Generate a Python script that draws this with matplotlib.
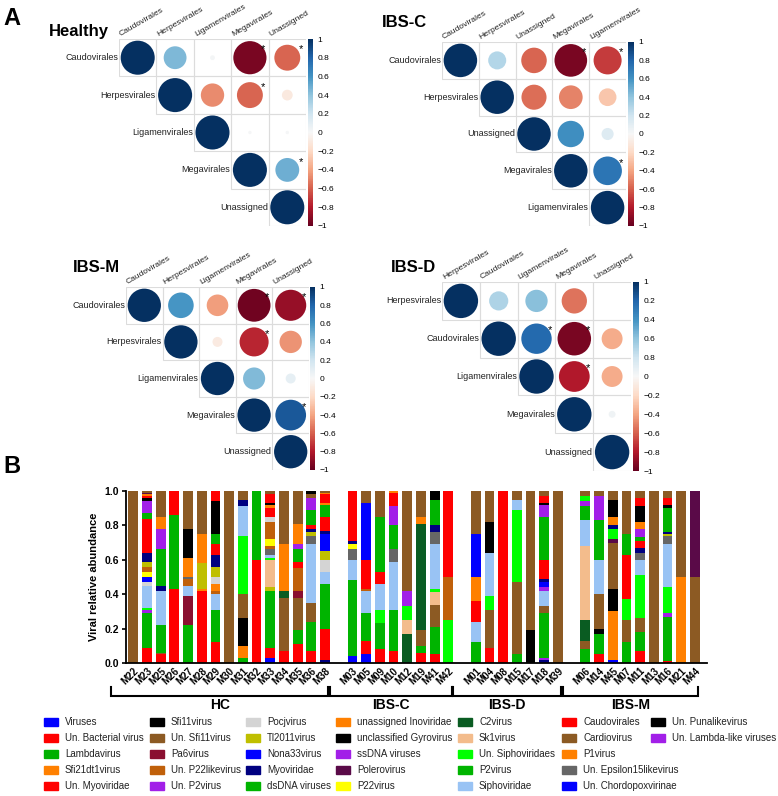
import numpy as np
import matplotlib
matplotlib.use("Agg")
import matplotlib.pyplot as plt
import matplotlib.transforms as mtransforms
from matplotlib.patches import Circle, Rectangle
from matplotlib.colors import Normalize
from matplotlib.cm import ScalarMappable

plt.rcParams['font.family'] = ['Liberation Sans', 'DejaVu Sans']

# ---------------- panel A: correlations (upper triangle, row i = columns i..4) ----------------
healthy_order = ["Caudovirales", "Herpesvirales", "Ligamenvirales", "Megavirales", "Unassigned"]
healthy_r = [[1, 0.45, 0.02, -0.95, -0.58],
             [1, -0.47, -0.58, -0.10],
             [1, 0.01, 0.01],
             [1, 0.49],
             [1]]
healthy_sig = [(0, 3), (0, 4), (1, 3), (3, 4)]

ibsc_order = ["Caudovirales", "Herpesvirales", "Unassigned", "Megavirales", "Ligamenvirales"]
ibsc_r = [[1, 0.29, -0.58, -0.95, -0.70],
          [1, -0.56, -0.50, -0.28],
          [1, 0.62, 0.13],
          [1, 0.73],
          [1]]
ibsc_sig = [(0, 3), (0, 4), (3, 4)]

ibsm_order = ["Caudovirales", "Herpesvirales", "Ligamenvirales", "Megavirales", "Unassigned"]
ibsm_r = [[1, 0.59, -0.42, -0.97, -0.87],
          [1, -0.09, -0.76, -0.45],
          [1, 0.44, 0.09],
          [1, 0.85],
          [1]]
ibsm_sig = [(0, 3), (0, 4), (1, 3), (3, 4)]

ibsd_order = ["Herpesvirales", "Caudovirales", "Ligamenvirales", "Megavirales", "Unassigned"]
ibsd_r = [[1, 0.31, 0.42, -0.54, 0.0],
          [1, 0.78, -0.95, -0.37],
          [1, -0.80, -0.37],
          [1, 0.04],
          [1]]
ibsd_sig = [(1, 2), (1, 3), (2, 3)]

cbar_labels = ["1", "0.8", "0.6", "0.4", "0.2", "0", "\u22120.2", "\u22120.4", "\u22120.6", "\u22120.8", "\u22121"]
cbar_labels_ibsd = ["1", "0.2", "0.4", "0.6", "0.8", "0", "\u22120.2", "\u22120.4", "\u22120.6", "\u22120.8", "\u22121"]

# ---------------- panel B: viral relative abundance ----------------
taxa = {"Br": "Un. Sfi11virus", "R": "Caudovirales", "G": "dsDNA viruses", "BG": "Un. Siphoviridaes",
        "LB": "Siphoviridae", "O": "P1virus", "OB": "Un. P22likevirus", "K": "Sfi11virus",
        "N": "Myoviridae", "B": "Nona33virus", "P": "ssDNA viruses", "DP": "Polerovirus",
        "Ol": "Tl2011virus", "Y": "P22virus", "LG": "Pocjvirus", "Gy": "Un. Epsilon15likevirus",
        "T": "Sk1virus", "DG": "C2virus", "DR": "Pa6virus"}

hc_samples = ["M22", "M23", "M25", "M26", "M27", "M28", "M29", "M30", "M31", "M32", "M33", "M34", "M35", "M36", "M38"]
hc_stacks = [
    [("Br", 1.0)],
    [("R", .09), ("G", .20), ("P", .02), ("BG", .01), ("LB", .13), ("LG", .02), ("B", .03), ("Y", .03),
     ("OB", .03), ("Ol", .03), ("N", .05), ("R", .20), ("G", .03), ("P", .07), ("K", .02), ("R", .01),
     ("O", .01), ("DP", .01), ("Br", .01)],
    [("R", .05), ("Br", .01), ("G", .16), ("LB", .20), ("N", .03), ("G", .21), ("P", .12), ("O", .07), ("Br", .15)],
    [("R", .43), ("G", .43), ("R", .14)],
    [("G", .22), ("DR", .17), ("LB", .06), ("OB", .04), ("Gy", .01), ("O", .11), ("K", .17), ("Br", .22)],
    [("R", .42), ("O", .01), ("Ol", .15), ("O", .17), ("Br", .25)],
    [("R", .12), ("G", .19), ("LB", .09), ("OB", .02), ("O", .04), ("LG", .04), ("Ol", .06), ("N", .07),
     ("R", .06), ("G", .06), ("K", .19), ("R", .06)],
    [("Br", 1.0)],
    [("G", .03), ("O", .07), ("K", .16), ("Br", .14), ("BG", .34), ("LB", .17), ("N", .04), ("Br", .05)],
    [("R", .60), ("G", .40)],
    [("B", .03), ("R", .06), ("G", .33), ("Ol", .02), ("T", .16), ("BG", .01), ("LB", .02), ("Gy", .03),
     ("OB", .02), ("Y", .04), ("OB", .10), ("LG", .03), ("R", .05), ("O", .02), ("K", .01), ("R", .05), ("Br", .02)],
    [("R", .07), ("Br", .31), ("DG", .04), ("O", .27), ("Br", .31)],
    [("R", .11), ("G", .08), ("Br", .19), ("DR", .04), ("OB", .13), ("R", .04), ("G", .07), ("P", .03),
     ("O", .12), ("Br", .19)],
    [("R", .07), ("G", .17), ("Br", .11), ("LB", .34), ("Gy", .05), ("Ol", .02), ("N", .02), ("R", .02),
     ("G", .09), ("P", .07), ("Br", .02), ("K", .02)],
    [("N", .02), ("R", .18), ("G", .26), ("LB", .07), ("LG", .07), ("Ol", .05), ("B", .10), ("N", .02),
     ("R", .08), ("G", .07), ("O", .01), ("R", .05), ("O", .01), ("Br", .01)],
]

ibsc_samples = ["M03", "M05", "M09", "M10", "M12", "M19", "M41", "M42"]
ibsc_stacks = [
    [("B", .04), ("G", .44), ("LB", .12), ("Gy", .06), ("Y", .03), ("N", .02), ("R", .29)],
    [("B", .05), ("R", .08), ("G", .16), ("LB", .13), ("OB", .01), ("R", .17), ("B", .33), ("Br", .07)],
    [("R", .08), ("G", .15), ("BG", .08), ("LB", .15), ("R", .07), ("G", .32), ("Br", .15)],
    [("R", .07), ("G", .24), ("LB", .28), ("Gy", .07), ("G", .14), ("P", .11), ("R", .08), ("O", .01)],
    [("DG", .17), ("T", .08), ("BG", .08), ("P", .09), ("Br", .58)],
    [("R", .06), ("G", .04), ("Br", .09), ("DG", .62), ("O", .04), ("Br", .15)],
    [("R", .05), ("G", .16), ("Br", .13), ("T", .07), ("BG", .02), ("LB", .26), ("Gy", .07), ("N", .04),
     ("G", .15), ("K", .05)],
    [("BG", .25), ("OB", .25), ("R", .50)],
]

ibsd_samples = ["M01", "M04", "M08", "M15", "M17", "M18", "M39"]
ibsd_stacks = [
    [("G", .12), ("LB", .12), ("R", .12), ("O", .14), ("B", .25), ("Br", .25)],
    [("R", .09), ("Br", .22), ("BG", .08), ("LB", .25), ("K", .18), ("Br", .18)],
    [("R", 1.0)],
    [("G", .05), ("Br", .42), ("BG", .42), ("LB", .06), ("Br", .05)],
    [("K", .19), ("Br", .81)],
    [("N", .015), ("P", .015), ("G", .26), ("Br", .04), ("LB", .09), ("P", .02), ("B", .03), ("N", .02),
     ("R", .11), ("G", .25), ("P", .07), ("K", .01), ("R", .04), ("Br", .03)],
    [("Br", 1.0)],
]

ibsm_samples = ["M06", "M14", "M45", "M07", "M11", "M13", "M16", "M21", "M44"]
ibsm_stacks = [
    [("G", .08), ("Br", .05), ("DG", .12), ("T", .43), ("LB", .15), ("G", .08), ("P", .03), ("BG", .03), ("Br", .03)],
    [("R", .05), ("G", .12), ("K", .03), ("Br", .20), ("LB", .20), ("G", .23), ("P", .14), ("Br", .03)],
    [("B", .02), ("O", .28), ("K", .13), ("Br", .27), ("DP", .02), ("BG", .06), ("N", .02), ("O", .05),
     ("K", .10), ("Br", .05)],
    [("G", .12), ("Br", .13), ("BG", .12), ("R", .26), ("G", .12), ("Br", .25)],
    [("R", .07), ("G", .11), ("Br", .08), ("BG", .25), ("LB", .09), ("Gy", .04), ("N", .03), ("R", .04),
     ("G", .02), ("P", .05), ("O", .04), ("K", .09), ("R", .05), ("Br", .04)],
    [("Br", 1.0)],
    [("R", .01), ("G", .26), ("P", .02), ("BG", .15), ("LB", .25), ("Gy", .05), ("Ol", .01), ("N", .01),
     ("G", .14), ("K", .02), ("R", .04), ("Br", .04)],
    [("O", .5), ("Br", .5)],
    [("Br", .5), ("DP", .5)],
]

group_names = ["HC", "IBS-C", "IBS-D", "IBS-M"]

legend_cols = [
    ["Viruses", "Un. Bacterial virus", "Lambdavirus", "Sfi21dt1virus", "Un. Myoviridae"],
    ["Sfi11virus", "Un. Sfi11virus", "Pa6virus", "Un. P22likevirus", "Un. P2virus"],
    ["Pocjvirus", "Tl2011virus", "Nona33virus", "Myoviridae", "dsDNA viruses"],
    ["unassigned Inoviridae", "unclassified Gyrovirus", "ssDNA viruses", "Polerovirus", "P22virus"],
    ["C2virus", "Sk1virus", "Un. Siphoviridaes", "P2virus", "Siphoviridae"],
    ["Caudovirales", "Cardiovirus", "P1virus", "Un. Epsilon15likevirus", "Un. Chordopoxvirinae"],
    ["Un. Punalikevirus", "Un. Lambda-like viruses"],
]

colors = {
    "Viruses": "#0000FF", "Un. Bacterial virus": "#FF0000", "Lambdavirus": "#00B000",
    "Sfi21dt1virus": "#FF8000", "Un. Myoviridae": "#FF0000", "Sfi11virus": "#000000",
    "Un. Sfi11virus": "#8C5A23", "Pa6virus": "#8A0F30", "Un. P22likevirus": "#C0600A",
    "Un. P2virus": "#A21FE8", "Pocjvirus": "#D4D4D4", "Tl2011virus": "#BFBF00",
    "Nona33virus": "#0000FF", "Myoviridae": "#000080", "dsDNA viruses": "#00B400",
    "unassigned Inoviridae": "#FF8000", "unclassified Gyrovirus": "#000000",
    "ssDNA viruses": "#A21FE8", "Polerovirus": "#5A0A48", "P22virus": "#FFFF00",
    "C2virus": "#0A5C22", "Sk1virus": "#F3BC8C", "Un. Siphoviridaes": "#00FF00",
    "P2virus": "#00B400", "Siphoviridae": "#99C3F4", "Caudovirales": "#FF0000",
    "Cardiovirus": "#8C5A23", "P1virus": "#FF8000", "Un. Epsilon15likevirus": "#666666",
    "Un. Chordopoxvirinae": "#0000FF", "Un. Punalikevirus": "#000000",
    "Un. Lambda-like viruses": "#A21FE8",
}

W, H = 778, 796


def rect_px(left, top, width, height):
    return [left / W, 1 - (top + height) / H, width / W, height / H]


fig = plt.figure(figsize=(W / 100, H / 100), dpi=100)
cmap = plt.get_cmap('RdBu')
norm = Normalize(-1, 1)


def corr_panel(grid, cbar, title, title_xy, order, r_rows, sig, labels):
    ax = fig.add_axes(rect_px(*grid))
    n = len(order)
    ax.set_xlim(-0.5, n - 0.5)
    ax.set_ylim(n - 0.5, -0.5)
    ax.axis('off')
    for i, row in enumerate(r_rows):
        for k, r in enumerate(row):
            j = i + k
            ax.add_patch(Rectangle((j - 0.5, i - 0.5), 1, 1, fill=False, ec='#dcdcdc', lw=0.8))
            ax.add_patch(Circle((j, i), 0.455 * np.sqrt(abs(r)), color=cmap(norm(r)), lw=0))
    for i, j in sig:
        ax.text(j + 0.36, i - 0.22, '*', ha='center', va='center', fontsize=8)
    for i, name in enumerate(order):
        ax.text(i - 0.52, i, name, ha='right', va='center', fontsize=6.5, color='#222222')
        ax.text(i - 0.42, -0.53, name, rotation=30, rotation_mode='anchor',
                ha='left', va='bottom', fontsize=6.1, color='#222222', clip_on=False)
    cax = fig.add_axes(rect_px(*cbar))
    cb = fig.colorbar(ScalarMappable(norm=norm, cmap=cmap), cax=cax, ticks=np.linspace(1, -1, 11))
    cb.outline.set_visible(False)
    cb.ax.tick_params(length=0, labelsize=6, pad=3)
    cb.ax.set_yticklabels(labels)
    fig.text(title_xy[0] / W, 1 - title_xy[1] / H, title, fontsize=12, fontweight='bold',
             ha='left', va='baseline')


corr_panel((119, 39, 187, 187), (308, 39, 5, 187), "Healthy", (49, 36),
           healthy_order, healthy_r, healthy_sig, cbar_labels)
corr_panel((442, 42, 184, 184), (628, 42, 6, 184), "IBS-C", (382, 27),
           ibsc_order, ibsc_r, ibsc_sig, cbar_labels)
corr_panel((126, 287, 183, 183), (310, 287, 5, 183), "IBS-M", (73, 272),
           ibsm_order, ibsm_r, ibsm_sig, cbar_labels)
corr_panel((442, 282, 189, 189), (633, 282, 6, 189), "IBS-D", (391, 272),
           ibsd_order, ibsd_r, ibsd_sig, cbar_labels_ibsd)

fig.text(3 / W, 1 - 25 / H, "A", fontsize=17, fontweight='bold', ha='left', va='baseline')
fig.text(3 / W, 1 - 473 / H, "B", fontsize=17, fontweight='bold', ha='left', va='baseline')

# ---------------- stacked bars ----------------
ax = fig.add_axes(rect_px(126, 491, 581, 172))
groups = [(hc_samples, hc_stacks), (ibsc_samples, ibsc_stacks),
          (ibsd_samples, ibsd_stacks), (ibsm_samples, ibsm_stacks)]
trans = mtransforms.blended_transform_factory(ax.transData, fig.transFigure)
ticks, ticklabels = [], []
slot = 0
for name, (samples, stacks) in zip(group_names, groups):
    first = slot
    for sample, stack in zip(samples, stacks):
        bottom = 0.0
        for code, val in stack:
            ax.bar(slot, val, bottom=bottom, width=0.72, color=colors[taxa[code]], lw=0)
            bottom += val
        ticks.append(slot)
        ticklabels.append(sample)
        slot += 1
    last = slot - 1
    x0, x1 = first - 1.65, last + 0.25
    yb, yt = 1 - 696 / H, 1 - 687 / H
    ax.plot([x0, x0, x1, x1], [yt, yb, yb, yt], color='black', lw=1.5, transform=trans,
            clip_on=False, solid_joinstyle='miter')
    ax.text((x0 + x1) / 2, 1 - 705 / H, name, transform=trans, ha='center', va='center',
            fontsize=10, fontweight='bold')
    slot += 1

ax.set_xlim(-0.53, 41.88)
ax.set_ylim(0, 1)
ax.set_yticks(np.linspace(0, 1, 6))
ax.set_yticklabels([f"{v:.1f}" for v in np.linspace(0, 1, 6)], fontweight='bold', fontsize=7.5)
ax.set_xticks(ticks)
ax.set_xticklabels(ticklabels, rotation=45, ha='right', va='top', rotation_mode='anchor',
                   fontweight='bold', fontsize=7)
ax.tick_params(axis='x', length=0, pad=2)
ax.tick_params(axis='y', length=3, width=1.2, direction='out', pad=2)
for s in ['top', 'right']:
    ax.spines[s].set_visible(False)
for s in ['left', 'bottom']:
    ax.spines[s].set_linewidth(1.3)
ax.set_ylabel("Viral relative abundance", fontweight='bold', fontsize=8, labelpad=4)

# ---------------- legend ----------------
text_x = [65, 171, 267, 357, 479, 583, 672]
row_y = [722, 738, 754, 770, 786]
for cx, col in zip(text_x, legend_cols):
    for ry, label in zip(row_y, col):
        fig.patches.append(Rectangle(((cx - 21) / W, 1 - (ry + 4) / H), 14 / W, 8 / H,
                                     color=colors[label], transform=fig.transFigure))
        fig.text(cx / W, 1 - ry / H, label, fontsize=7, ha='left', va='center', color='#222222')

fig.savefig("out.png", dpi=100)
